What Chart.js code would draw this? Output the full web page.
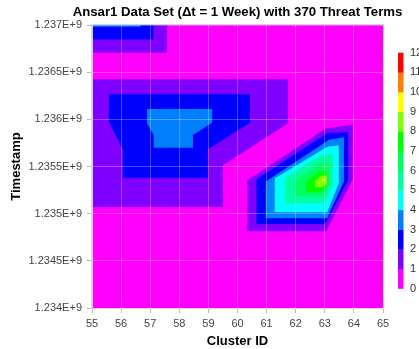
<!DOCTYPE html>
<html>
<head>
<meta charset="utf-8">
<script src="https://cdn.jsdelivr.net/npm/chart.js@4.4.1/dist/chart.umd.min.js"></script>
<style>
  html, body { margin: 0; padding: 0; background: #fff; }
</style>
</head>
<body>
<canvas id="contourChart" width="419" height="349"></canvas>
<script>
// Eixos
const clusterRange = [55, 65];
const timeRange = [1234000000, 1237000000];
const colorbarTicks = [0, 1, 2, 3, 4, 5, 6, 7, 8, 9, 10, 11, 12];

// Regiões do contorno: nível mínimo e vértices (Cluster ID, Timestamp)
const regionLevel = [1, 1, 1, 2, 2, 2, 3, 3, 3, 4, 5, 6, 7, 8, 9];
const regionCluster = [
  [55, 57.58, 57.58, 55],
  [55, 61.73, 61.73, 59.50, 59.50, 55],
  [60.34, 63.03, 63.96, 63.96, 63.05, 60.34],
  [55, 57.11, 57.11, 55],
  [55.58, 60.43, 60.43, 58.98, 58.98, 56.06, 56.06, 55.58],
  [60.65, 63.08, 63.80, 63.80, 63.00, 60.65],
  [55, 56.67, 56.67, 55],
  [56.89, 59.13, 59.13, 58.47, 58.47, 57.12, 57.12, 56.89],
  [60.97, 63.15, 63.66, 63.66, 63.08, 60.97],
  [61.28, 63.11, 63.48, 63.48, 63.08, 61.28],
  [61.63, 62.89, 63.28, 63.28, 63.00, 61.63],
  [61.97, 62.83, 63.17, 63.17, 62.90, 61.97],
  [62.35, 62.79, 63.07, 63.07, 62.86, 62.35],
  [62.66, 62.86, 63.07, 63.07, 62.90, 62.66],
  [62.91, 63.02, 63.02, 62.91]
];
const regionTime = [
  [1237000000, 1237000000, 1236705000, 1236705000],
  [1236424000, 1236424000, 1235957000, 1235514000, 1235072000, 1235072000],
  [1235355000, 1235902000, 1235942000, 1235366000, 1234814000, 1234814000],
  [1237000000, 1237000000, 1236846000, 1236846000],
  [1236265000, 1236265000, 1235963000, 1235681000, 1235380000, 1235380000, 1235674000, 1235974000],
  [1235366000, 1235854000, 1235865000, 1235355000, 1234891000, 1234891000],
  [1237000000, 1237000000, 1236982000, 1236982000],
  [1236109000, 1236109000, 1235963000, 1235833000, 1235698000, 1235698000, 1235833000, 1235957000],
  [1235341000, 1235783000, 1235811000, 1235341000, 1234952000, 1234952000],
  [1235376000, 1235713000, 1235723000, 1235323000, 1235016000, 1235016000],
  [1235376000, 1235624000, 1235631000, 1235305000, 1235111000, 1235111000],
  [1235355000, 1235536000, 1235536000, 1235302000, 1235185000, 1235185000],
  [1235334000, 1235451000, 1235451000, 1235291000, 1235228000, 1235228000],
  [1235345000, 1235403000, 1235408000, 1235313000, 1235281000, 1235281000],
  [1235366000, 1235371000, 1235345000, 1235345000]
];

const levelColors = ['#ff00ff', '#8000ff', '#0000ff', '#0080ff', '#00ffff', '#00ffa0',
  '#00ff60', '#00ff00', '#80ff00', '#ffff00', '#ff8000', '#ff0000'];

const FONT = '"Liberation Sans", Arial, sans-serif';
Chart.defaults.font.family = FONT;

function band(level, xs, ys) {
  return {
    data: xs.map((x, j) => ({ x: x, y: ys[j] })),
    backgroundColor: levelColors[level],
    borderColor: 'transparent',
    borderWidth: 0,
    pointRadius: 0,
    tension: 0,
    fill: 'shape',
    order: 20 - level
  };
}

// fundo (nível 0) cobre toda a área dos eixos
const datasets = [band(0,
  [clusterRange[0], clusterRange[1], clusterRange[1], clusterRange[0]],
  [timeRange[1], timeRange[1], timeRange[0], timeRange[0]])];
regionLevel.forEach((lev, i) => datasets.push(band(lev, regionCluster[i], regionTime[i])));

// Barra de cores à direita
const colorbar = {
  id: 'colorbar',
  afterLayout(chart) {
    // título centrado na área do gráfico, mas sem ser comprimido
    const t = chart.titleBlock;
    if (t) { t.left -= 60; t.right += 60; t.width += 120; }
  },
  afterDraw(chart) {
    const { ctx, chartArea: a } = chart;
    const top = a.top + 27.7, bottom = a.bottom - 19.5;
    const left = a.right + 15, w = 5.5;
    const n = colorbarTicks.length - 1;
    const step = (bottom - top) / n;
    ctx.save();
    for (let k = 0; k < n; k++) {
      ctx.fillStyle = levelColors[k];
      ctx.fillRect(left, bottom - (k + 1) * step, w, step + 0.3);
    }
    ctx.fillStyle = '#333';
    ctx.font = '11px ' + FONT;
    ctx.textAlign = 'left';
    ctx.textBaseline = 'middle';
    colorbarTicks.forEach(t => ctx.fillText(String(t), left + w + 6.5, bottom - t * step));
    // moldura da área do gráfico
    ctx.strokeStyle = '#d4d4d4';
    ctx.lineWidth = 1;
    ctx.strokeRect(a.left - 0.5, a.top - 0.5, a.width + 1, a.height + 1);
    ctx.restore();
  }
};

const tickFont = { size: 11 };
const gridOpts = { color: 'rgba(255,255,255,0.28)', tickColor: '#bbb', tickLength: 5, z: 1 };

new Chart(document.getElementById('contourChart'), {
  type: 'line',
  data: { datasets: datasets },
  options: {
    responsive: false,
    animation: false,
    events: [],
    layout: { padding: { left: 0, right: 36, top: 0, bottom: 0 } },
    plugins: {
      legend: { display: false },
      tooltip: { enabled: false },
      filler: { propagate: false },
      title: {
        display: true,
        fullSize: false,
        text: 'Ansar1 Data Set (\u0394t = 1 Week) with 370 Threat Terms',
        color: '#000',
        font: { size: 13.2, weight: 'bold' },
        padding: { top: 4, bottom: 5.2 }
      }
    },
    scales: {
      x: {
        type: 'linear',
        min: clusterRange[0],
        max: clusterRange[1],
        ticks: { stepSize: 1, font: tickFont, color: '#444', padding: 4, maxRotation: 0 },
        grid: gridOpts,
        border: { color: '#d4d4d4', z: 1 },
        title: { display: true, text: 'Cluster ID', color: '#000', font: { size: 13, weight: 'bold' }, padding: { top: 0, bottom: 0 } },
        afterFit(s) { s.height = 41; }
      },
      y: {
        type: 'linear',
        min: timeRange[0],
        max: timeRange[1],
        ticks: {
          stepSize: 500000,
          font: tickFont,
          color: '#444',
          padding: 5,
          callback: v => (v / 1e9).toFixed(4).replace(/0+$/, '').replace(/\.$/, '') + 'E+9'
        },
        grid: gridOpts,
        border: { color: '#d4d4d4', z: 1 },
        title: { display: true, text: 'Timestamp', color: '#000', font: { size: 13, weight: 'bold' }, padding: { top: 9, bottom: 0 } },
        afterFit(s) { s.width = 92; }
      }
    }
  },
  plugins: [colorbar]
});
</script>
</body>
</html>
